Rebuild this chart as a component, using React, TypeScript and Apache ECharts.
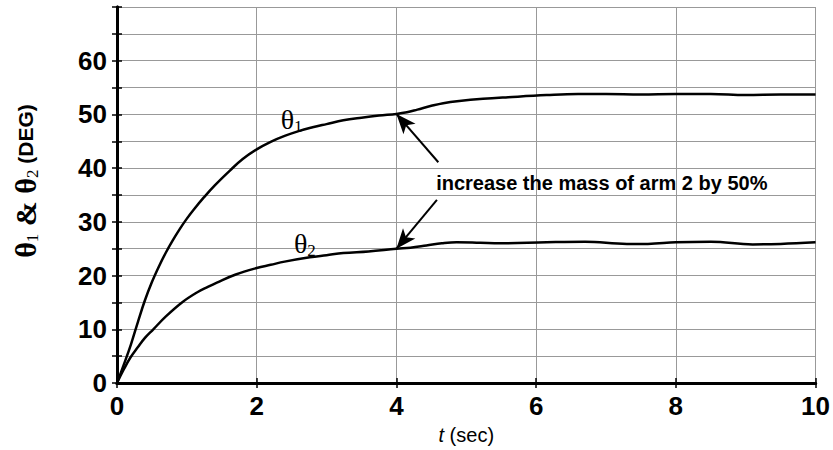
import React, { useEffect, useRef } from "react";
import * as echarts from "echarts";

const theta1: [number, number][] = [
  [0, 0], [0.1, 3.5], [0.2, 7.2], [0.3, 11.4], [0.4, 15.4], [0.5, 18.8], [0.6, 21.7],
  [0.7, 24.3], [0.8, 26.6], [0.9, 28.7], [1.0, 30.6], [1.1, 32.3], [1.24, 34.5],
  [1.4, 36.8], [1.62, 39.6], [1.8, 41.7], [2.0, 43.5], [2.2, 44.9], [2.4, 46.0],
  [2.6, 46.9], [2.8, 47.6], [3.0, 48.2], [3.24, 48.9], [3.5, 49.4], [3.75, 49.8],
  [4.0, 50.1], [4.15, 50.4], [4.3, 50.9], [4.5, 51.6], [4.67, 52.1], [4.9, 52.5],
  [5.24, 52.9], [5.6, 53.2], [6.15, 53.6], [6.6, 53.8], [7.0, 53.8], [7.5, 53.7],
  [8.0, 53.8], [8.5, 53.8], [9.0, 53.6], [9.5, 53.7], [10, 53.7],
];
const theta2: [number, number][] = [
  [0, 0], [0.1, 2.6], [0.19, 4.7], [0.3, 6.7], [0.4, 8.4], [0.52, 10.0], [0.7, 12.4],
  [0.93, 15.0], [1.15, 16.9], [1.3, 17.9], [1.43, 18.7], [1.7, 20.2], [2.0, 21.4],
  [2.2, 22.0], [2.4, 22.6], [2.76, 23.4], [3.0, 23.8], [3.24, 24.2], [3.6, 24.5],
  [4.0, 25.0], [4.2, 25.2], [4.43, 25.6], [4.65, 26.0], [4.86, 26.2], [5.2, 26.1],
  [5.48, 26.0], [6.15, 26.2], [6.7, 26.3], [7.3, 25.9], [7.6, 25.9], [8.0, 26.2],
  [8.5, 26.3], [9.1, 25.8], [9.5, 25.9], [10, 26.2],
];
const xTicks = { min: 0, max: 10, interval: 2 };
const yTicks = { min: 0, max: 70, interval: 5 };
const yLabelValues = [0, 10, 20, 30, 40, 50, 60];
const annotationText = "increase the mass of arm 2 by 50%";
const annotationPos: [number, number] = [6.94, 37.2];
const arrow1: [[number, number], [number, number]] = [[4.6, 41.1], [4.0, 50.1]];
const arrow2: [[number, number], [number, number]] = [[4.58, 34.1], [4.0, 25.0]];
const label1Pos: [number, number] = [2.5, 49.0];
const label2Pos: [number, number] = [2.69, 25.9];

const SANS = "'Liberation Sans', Arial, sans-serif";
const SERIF = "'Liberation Serif', 'Times New Roman', serif";

export default function App() {
  const ref = useRef<HTMLDivElement>(null);
  useEffect(() => {
    if (!ref.current) return;
    const chart = echarts.init(ref.current, null, { renderer: "svg" });
    const thetaRich = {
      th: { fontFamily: SERIF, fontSize: 28, color: "#000", lineHeight: 30 },
      sub: { fontFamily: SERIF, fontSize: 17, color: "#000", lineHeight: 30, padding: [14, 0, 0, 0] },
    };
    const axisLine = { show: true, lineStyle: { color: "#000", width: 3 } };
    const tick = { show: true, inside: true, length: 5, lineStyle: { color: "#000", width: 1.5 } };
    chart.setOption({
      animation: false,
      grid: { left: 117, right: 17, top: 7, bottom: 61 },
      xAxis: [
        {
          type: "value", ...xTicks, position: "bottom",
          axisLine, axisTick: tick,
          splitLine: { show: true, lineStyle: { color: "#999", width: 1 } },
          axisLabel: { fontFamily: SANS, fontWeight: "bold", fontSize: 26, color: "#000", margin: 10 },
          name: "{it|t} (sec)",
          nameLocation: "middle",
          nameGap: 42,
          nameTextStyle: {
            fontFamily: SANS, fontSize: 20, color: "#000",
            rich: { it: { fontFamily: SANS, fontSize: 20, fontStyle: "italic", color: "#000" } },
          },
        },
        {
          type: "value", ...xTicks, position: "top",
          axisLine, axisTick: tick, axisLabel: { show: false }, splitLine: { show: false },
        },
      ],
      yAxis: [
        {
          type: "value", ...yTicks, position: "left",
          axisLine, axisTick: tick,
          splitLine: { show: true, lineStyle: { color: "#999", width: 1 } },
          axisLabel: {
            fontFamily: SANS, fontWeight: "bold", fontSize: 26, color: "#000", margin: 10,
            formatter: (v: number) => (yLabelValues.includes(v) ? String(v) : ""),
          },
        },
        {
          type: "value", ...yTicks, position: "right",
          axisLine, axisTick: tick, axisLabel: { show: false }, splitLine: { show: false },
        },
      ],
      graphic: [
        {
          type: "text",
          x: 25,
          y: 181,
          rotation: Math.PI / 2,
          style: {
            text: "{th|θ}{sub|1}{amp| & }{th|θ}{sub|2}{deg| (DEG)}",
            align: "center",
            verticalAlign: "middle",
            rich: {
              th: { fontFamily: SERIF, fontSize: 30, fontWeight: "bold", fill: "#000", lineHeight: 30 },
              sub: { fontFamily: SERIF, fontSize: 17, fill: "#000", lineHeight: 30, padding: [14, 0, 0, 0] },
              amp: { fontFamily: SERIF, fontSize: 30, fontWeight: "bold", fill: "#000", lineHeight: 30 },
              deg: { fontFamily: SANS, fontSize: 21, fontWeight: "bold", fill: "#000", lineHeight: 30 },
            },
          },
        },
      ],
      series: [
        {
          type: "line", data: theta1, showSymbol: false, smooth: 0.4,
          lineStyle: { color: "#000", width: 2.5 },
          markLine: {
            silent: true, symbol: ["none", "arrow"], symbolSize: [12, 20],
            lineStyle: { color: "#000", width: 2, type: "solid" },
            itemStyle: { color: "#000" },
            label: { show: false },
            data: [
              [{ coord: arrow1[0] }, { coord: arrow1[1] }],
              [{ coord: arrow2[0] }, { coord: arrow2[1] }],
            ],
          },
          markPoint: {
            silent: true, symbol: "circle", symbolSize: 0,
            data: [
              {
                coord: label1Pos, value: 1,
                label: { show: true, position: "inside", formatter: "{th|θ}{sub|1}", rich: thetaRich },
              },
              {
                coord: label2Pos, value: 2,
                label: { show: true, position: "inside", formatter: "{th|θ}{sub|2}", rich: thetaRich },
              },
              {
                coord: annotationPos, value: 3,
                label: {
                  show: true, position: "inside", formatter: annotationText,
                  fontFamily: SANS, fontWeight: "bold", fontSize: 20, color: "#000",
                },
              },
            ],
          },
        },
        {
          type: "line", data: theta2, showSymbol: false, smooth: 0.4,
          lineStyle: { color: "#000", width: 2.5 },
        },
      ],
    });
    return () => chart.dispose();
  }, []);
  return (
    <div
      ref={ref}
      style={{ position: "fixed", left: 0, top: 0, width: 833, height: 450, background: "#fff" }}
    />
  );
}
